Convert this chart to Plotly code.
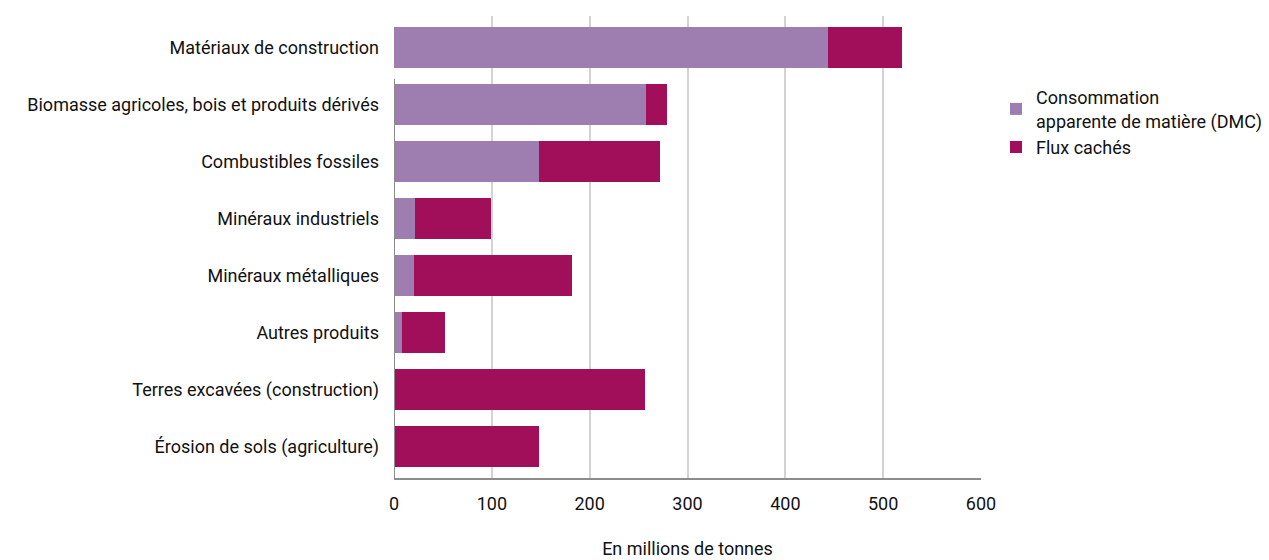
import plotly.graph_objects as go

categories = [
    "Matériaux de construction",
    "Biomasse agricoles, bois et produits dérivés",
    "Combustibles fossiles",
    "Minéraux industriels",
    "Minéraux métalliques",
    "Autres produits",
    "Terres excavées (construction)",
    "Érosion de sols (agriculture)",
]
dmc = [444, 258, 148, 21, 20, 8, 0, 0]
flux_caches = [75, 21, 124, 78, 162, 44, 257, 148]
tick_vals = [0, 100, 200, 300, 400, 500, 600]

FONT = "Roboto, sans-serif"
C_DMC = "#9E7EB1"
C_FLUX = "#A10E5A"

# page body adds an 8px offset; figure sized to fit the 1269x560 window
W, H = 1261, 552

fig = go.Figure()
fig.add_trace(go.Bar(
    y=categories, x=dmc, orientation="h", name="Consommation<br>apparente de matière (DMC)",
    marker=dict(color=C_DMC, line=dict(width=0)), width=0.73,
))
fig.add_trace(go.Bar(
    y=categories, x=flux_caches, orientation="h", name="Flux cachés",
    marker=dict(color=C_FLUX, line=dict(width=0)), width=0.73,
))

fig.update_layout(
    barmode="stack",
    width=W, height=H,
    margin=dict(l=386, r=287.5, t=8, b=81.5, pad=0, autoexpand=False),
    plot_bgcolor="white", paper_bgcolor="white",
    font=dict(family=FONT, size=18, color="#111111"),
    legend=dict(xref="container", yref="container", x=988 / W, y=1 - 71 / H,
                xanchor="left", yanchor="top",
                font=dict(family=FONT, size=18, color="#111111"),
                traceorder="normal", tracegroupgap=0, itemwidth=30),
    showlegend=True,
)
fig.update_xaxes(
    range=[0, 600], tickvals=tick_vals, ticktext=[str(v) for v in tick_vals],
    showgrid=True, gridcolor="#D3D3D3", gridwidth=1.5, zeroline=False,
    showline=True, linecolor="#8C8C8C", linewidth=2,
    ticks="", ticklabelstandoff=8, automargin=False,
    title=dict(text="En millions de tonnes", standoff=30, font=dict(size=18)),
    fixedrange=True,
)
fig.update_yaxes(
    categoryorder="array", categoryarray=categories,
    range=[7.55, -0.55], showgrid=False, zeroline=False, showline=False,
    ticks="", ticklabelstandoff=14, automargin=False, fixedrange=True,
)
# y axis line (starts below first bar in the reference)
fig.add_shape(type="line", xref="x", yref="paper", x0=0, x1=0, y0=0, y1=0.864,
              line=dict(color="#8C8C8C", width=2), layer="above")

fig.write_html("out.html")
